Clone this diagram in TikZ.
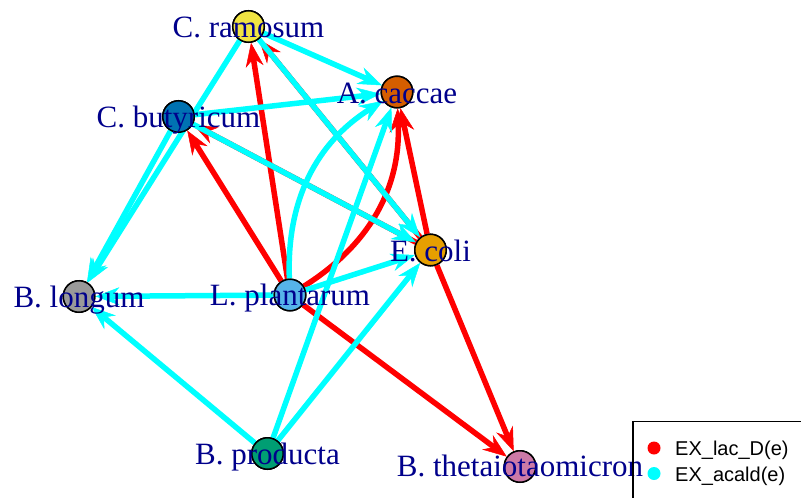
\documentclass[tikz,border=0pt]{standalone}
\usepackage{fontspec}
\setmainfont{Liberation Serif}
\newfontfamily\legfont{Liberation Sans}
\usetikzlibrary{arrows.meta}
\definecolor{labcol}{HTML}{00008B}
\definecolor{cyanE}{HTML}{00FFFF}
\definecolor{redE}{HTML}{FF0000}
\definecolor{cYel}{HTML}{F0E442}
\definecolor{cVerm}{HTML}{D55E00}
\definecolor{cBlue}{HTML}{0072B2}
\definecolor{cOra}{HTML}{E69F00}
\definecolor{cGrey}{HTML}{999999}
\definecolor{cSky}{HTML}{56B4E9}
\definecolor{cGreen}{HTML}{009E73}
\definecolor{cPink}{HTML}{CC79A7}
\tikzset{
  vtx/.style={circle, draw=black, line width=1.5pt, minimum size=31.5pt, inner sep=0pt},
  lab/.style={text=labcol, font=\fontsize{31}{36}\selectfont, anchor=base, inner sep=0pt},
  edgebase/.style={line width=5.5pt, -{Stealth[length=24pt,width=18pt,inset=8pt,line width=0.5pt]}},
  rE/.style={edgebase, draw=redE},
  cE/.style={edgebase, draw=cyanE},
  legtext/.style={font=\legfont\fontsize{20}{24}\selectfont, anchor=base west, inner sep=0pt}
}
\begin{document}
\begin{tikzpicture}[x=1pt,y=-1pt]
\useasboundingbox (0,0) rectangle (801,498);
\clip (0,0) rectangle (801,498);
% vertices (placed first so edges can refer to them; redrawn later on top)
\node[vtx, fill=cYel]   (cr) at (248.5,26.5) {};
\node[vtx, fill=cVerm]  (ac) at (397,92) {};
\node[vtx, fill=cBlue]  (cb) at (178.5,116.5) {};
\node[vtx, fill=cOra]   (ec) at (430.5,250) {};
\node[vtx, fill=cGrey]  (bl) at (79,296.5) {};
\node[vtx, fill=cSky]   (lp) at (290,295) {};
\node[vtx, fill=cGreen] (bp) at (267.5,453.5) {};
\node[vtx, fill=cPink]  (bt) at (520,466.5) {};
% red edges
\draw[rE] (lp) -- (cr);
\draw[rE] (lp) -- (cb);
\draw[rE] (lp) to[bend right=30] (ac);
\draw[rE] (ec) -- (ac);
\draw[rE] (ec) -- (bt);
\draw[rE] (lp) -- (bt);
\draw[rE] (ec) -- (cr);
\draw[rE] (ec) -- (cb);
% cyan edges
\draw[cE] (cr) -- (ac);
\draw[cE] (cb) -- (ac);
\draw[cE] (cr) -- (bl);
\draw[cE] (cb) -- (bl);
\draw[cE] (cr) -- (ec);
\draw[cE] (cb) -- (ec);
\draw[cE] (lp) -- (bl);
\draw[cE] (bp) -- (bl);
\draw[cE] (lp) to[bend left=30] (ac);
\draw[cE] (bp) -- (ac);
\draw[cE] (bp) -- (ec);
\draw[cE] (lp) -- (ec);
% vertices on top of edges
\node[vtx, fill=cYel]   at (cr) {};
\node[vtx, fill=cVerm]  at (ac) {};
\node[vtx, fill=cBlue]  at (cb) {};
\node[vtx, fill=cOra]   at (ec) {};
\node[vtx, fill=cGrey]  at (bl) {};
\node[vtx, fill=cSky]   at (lp) {};
\node[vtx, fill=cGreen] at (bp) {};
\node[vtx, fill=cPink]  at (bt) {};
% labels
\node[lab] (lcr) at (248.5,37.5) {C. ramosum};
\node[lab] (lac) at (397,103) {A. caccae};
\node[lab] (lcb) at (178.5,127) {C. butyricum};
\node[lab] (lec) at (430.5,261) {E. coli};
\node[lab] (lbl) at (79,307) {B. longum};
\node[lab] (llp) at (290,305.5) {L. plantarum};
\node[lab] (lbp) at (267.5,464) {B. producta};
\node[lab] (lbt) at (520,476.5) {B. thetaiotaomicron};
% legend
\draw[line width=1.5pt] (633,421.5) rectangle (840,540);
\fill[redE] (654,448) circle (6.5);
\fill[cyanE] (654,473.5) circle (6.5);
\node[legtext] (leg1) at (675,455.7) {EX\_lac\_D(e)};
\node[legtext] (leg2) at (675,481.5) {EX\_acald(e)};
\end{tikzpicture}
\end{document}
